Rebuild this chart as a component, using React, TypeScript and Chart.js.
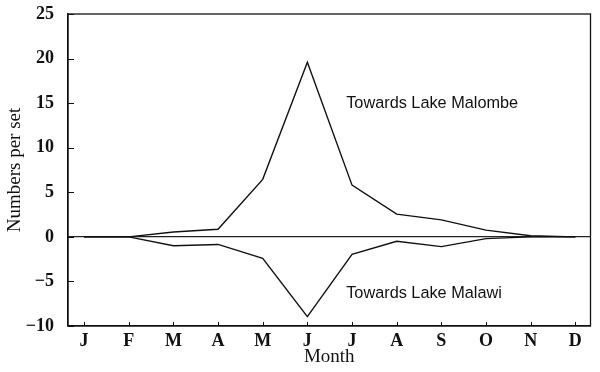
import React, { useEffect, useRef } from "react";
import { Chart, registerables } from "chart.js";

Chart.register(...registerables);

const months = ["J", "F", "M", "A", "M", "J", "J", "A", "S", "O", "N", "D"];
const towardsMalombe = [0, 0, 0.55, 0.85, 6.45, 19.6, 5.8, 2.55, 1.9, 0.75, 0.12, 0];
const towardsMalawi = [0, 0, -1.0, -0.85, -2.4, -8.95, -1.95, -0.5, -1.1, -0.2, 0, 0];
const yTicks = [-10, -5, 0, 5, 10, 15, 20, 25];
const seriesLabels = ["Towards Lake Malombe", "Towards Lake Malawi"];
const labelAnchors = [
  { x: 5.87, y: 15.0 },
  { x: 5.87, y: -6.3 },
];

const serif = "'Liberation Serif', 'Times New Roman', serif";
const sans = "'Liberation Sans', Arial, sans-serif";

const framePlugin = {
  id: "frame",
  afterDraw(chart: any) {
    const { ctx, chartArea } = chart;
    const xs = chart.scales.x;
    const ys = chart.scales.y;
    ctx.save();
    ctx.strokeStyle = "#111";
    ctx.lineWidth = 1.3;
    ctx.strokeRect(chartArea.left, chartArea.top, chartArea.right - chartArea.left, chartArea.bottom - chartArea.top);
    // inward tick marks
    ctx.lineWidth = 1;
    ctx.beginPath();
    months.forEach((_, i) => {
      const px = Math.round(xs.getPixelForValue(i)) + 0.5;
      ctx.moveTo(px, chartArea.bottom);
      ctx.lineTo(px, chartArea.bottom - 4);
    });
    yTicks.forEach((v) => {
      const py = Math.round(ys.getPixelForValue(v)) + 0.5;
      ctx.moveTo(chartArea.left, py);
      ctx.lineTo(chartArea.left + 6, py);
    });
    ctx.stroke();
    // series annotations
    ctx.fillStyle = "#111";
    ctx.font = `16.3px ${sans}`;
    ctx.textAlign = "left";
    ctx.textBaseline = "middle";
    seriesLabels.forEach((t, i) => {
      ctx.fillText(t, xs.getPixelForValue(labelAnchors[i].x), ys.getPixelForValue(labelAnchors[i].y));
    });
    ctx.restore();
  },
};

export default function App() {
  const ref = useRef<HTMLCanvasElement | null>(null);
  useEffect(() => {
    if (!ref.current) return;
    const chart = new Chart(ref.current, {
      type: "line",
      data: {
        datasets: [
          {
            label: seriesLabels[0],
            data: towardsMalombe.map((v, i) => ({ x: i, y: v })),
            borderColor: "#111",
            borderWidth: 1.4,
            pointRadius: 0,
            tension: 0,
          },
          {
            label: seriesLabels[1],
            data: towardsMalawi.map((v, i) => ({ x: i, y: v })),
            borderColor: "#111",
            borderWidth: 1.4,
            pointRadius: 0,
            tension: 0,
          },
        ],
      },
      plugins: [framePlugin],
      options: {
        animation: false,
        responsive: false,
        devicePixelRatio: 1,
        layout: { padding: { left: 0, top: 14, right: 9.5, bottom: 4 } },
        plugins: { legend: { display: false }, tooltip: { enabled: false } },
        scales: {
          x: {
            type: "linear",
            min: -0.36,
            max: 11.34,
            afterBuildTicks: (s: any) => {
              s.ticks = months.map((_, i) => ({ value: i }));
            },
            afterFit: (s: any) => {
              s.height = 372 - 4 - 326;
              s.paddingLeft = 0;
              s.paddingRight = 0;
            },
            grid: { display: false, drawTicks: false },
            border: { display: true, color: "#111", width: 1.3 },
            ticks: {
              padding: 5,
              color: "#111",
              font: { family: serif, size: 18, weight: "bold" },
              maxRotation: 0,
              autoSkip: false,
              callback: (v: any) => months[Math.round(Number(v))] ?? "",
            },
            title: {
              display: true,
              text: "Month",
              color: "#111",
              font: { family: serif, size: 19 },
              padding: { top: 0, bottom: 0 },
            },
          },
          y: {
            type: "linear",
            min: -10,
            max: 25,
            afterBuildTicks: (s: any) => {
              s.ticks = yTicks.map((v) => ({ value: v }));
            },
            afterFit: (s: any) => {
              s.width = 68;
              s.paddingTop = 0;
              s.paddingBottom = 0;
            },
            grid: {
              drawTicks: false,
              color: (c: any) => (c.tick && c.tick.value === 0 ? "#222" : "rgba(0,0,0,0)"),
              lineWidth: 1.3,
            },
            border: { display: true, color: "#111", width: 1.3 },
            ticks: {
              padding: 14,
              color: "#111",
              font: { family: serif, size: 18, weight: "bold" },
              callback: (v: any) => (Number(v) < 0 ? "\u2212" + Math.abs(Number(v)) : String(v)),
            },
            title: {
              display: true,
              text: "Numbers per set",
              color: "#111",
              font: { family: serif, size: 19 },
              padding: { top: 4, bottom: 0 },
            },
          },
        },
      },
    });
    return () => chart.destroy();
  }, []);
  return (
    <div style={{ position: "absolute", left: 0, top: 0, width: 600, height: 372, background: "#fff" }}>
      <canvas ref={ref} width={600} height={372} style={{ width: 600, height: 372 }} />
    </div>
  );
}
